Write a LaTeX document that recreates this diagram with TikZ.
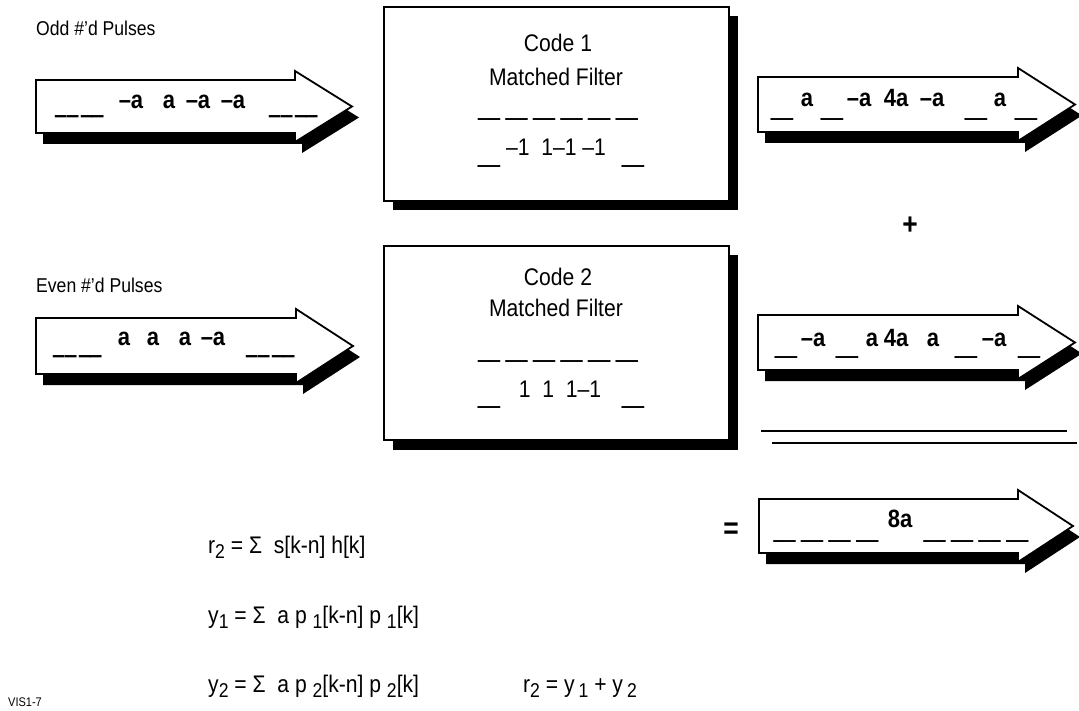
\documentclass[tikz,border=0pt]{standalone}
\usepackage{fontspec}
\setmainfont[FakeStretch=0.88]{Liberation Sans}
\newfontfamily\thinfont[FakeStretch=0.66]{Liberation Sans}
\newfontfamily\thickfont[FakeStretch=0.34]{Liberation Sans}
\newcommand\fsz[1]{\fontsize{#1}{#1}\selectfont}
\newcommand\lowr[1]{\raisebox{-5pt}{\fsz{20}#1}}
\newcommand\sigarrow[5]{%
  \fill[black,shift={(7,11)}] (#1,#2) -- (#4,#2) -- (#4,{#2-9}) -- (#5,{(#2+#3)/2}) -- (#4,{#3+9}) -- (#4,#3) -- (#1,#3) -- cycle;
  \draw[outline] (#1,#2) -- (#4,#2) -- (#4,{#2-9}) -- (#5,{(#2+#3)/2}) -- (#4,{#3+9}) -- (#4,#3) -- (#1,#3) -- cycle;}
\begin{document}
\begin{tikzpicture}[x=1pt,y=-1pt,
  outline/.style={draw=black,line width=1.8pt,fill=white,line join=miter},
  lbl/.style={inner sep=0pt,anchor=base west,font=\fsz{20}},
  mf/.style={inner sep=0pt,anchor=base,font=\fsz{24}},
  tok/.style={inner sep=0pt,anchor=base,font=\fsz{25}\bfseries},
  bdash/.style={inner sep=0pt,font=\thickfont\fsz{60}\bfseries},
  ndash/.style={inner sep=0pt,font=\thinfont\fsz{30}},
  eqn/.style={inner sep=0pt,anchor=base west,font=\fsz{24}},
  filterbox/.style={draw=black,line width=1.8pt,fill=white},
  boxshadow/.style={fill=black}]
\useasboundingbox (0,0) rectangle (1079,711);

% ---------- labels ----------
\node[lbl] (oddlbl) at (36,36) {Odd \#'d Pulses};
\node[lbl] (evenlbl) at (36,293) {Even \#'d Pulses};

% ---------- input arrow 1 ----------
\sigarrow{36}{80}{133}{295}{352}
\node[bdash] (o1) at (80,114.5) {\_\_\kern3pt\_\_};
\node[bdash] (o2) at (294,114.5) {\_\_\kern3pt\_\_};
\node[tok] (o3) at (131,108.5) {–a};
\node[tok] (o4) at (169,108.5) {a};
\node[tok] (o5) at (198,108.5) {–a};
\node[tok] (o6) at (233,108.5) {–a};

% ---------- input arrow 2 ----------
\sigarrow{36}{318}{374}{296}{353}
\node[bdash] (e1) at (78,354) {\_\_\kern3pt\_\_};
\node[bdash] (e2) at (271,354) {\_\_\kern3pt\_\_};
\node[tok] (e3) at (124,345.5) {a};
\node[tok] (e4) at (153,345.5) {a};
\node[tok] (e5) at (185,345.5) {a};
\node[tok] (e6) at (213,345.5) {–a};

% ---------- filter boxes ----------
\fill[boxshadow] (393,16) rectangle (738,210);
\node[filterbox,minimum width=345pt,minimum height=194pt,anchor=north west] (box1) at (383,6) {};
\node[mf] (b1a) at (558,51.5) {Code 1};
\node[mf] (b1b) at (556,85.5) {Matched Filter};
\node[ndash] (b1c) at (558,117) {\_\_ \_\_ \_\_ \_\_ \_\_ \_\_};
\node[mf] (b1d) at (556,155.5) {–1\ \ 1–1 –1};
\node[ndash] (b1e) at (489,164) {\_\_};
\node[ndash] (b1f) at (633,164) {\_\_};

\fill[boxshadow] (393,255) rectangle (738,450);
\node[filterbox,minimum width=345pt,minimum height=194pt,anchor=north west] (box2) at (383,245) {};
\node[mf] (b2a) at (558,285.5) {Code 2};
\node[mf] (b2b) at (556,316.5) {Matched Filter};
\node[ndash] (b2c) at (558,359) {\_\_ \_\_ \_\_ \_\_ \_\_ \_\_};
\node[mf] (b2d) at (560,397) {1\ \ 1\ \ 1–1};
\node[ndash] (b2e) at (489,405) {\_\_};
\node[ndash] (b2f) at (633,405) {\_\_};

% ---------- output arrow 1 ----------
\sigarrow{758}{77}{132}{1018}{1075}
\node[ndash] (r1) at (782,117.5) {\_\_};
\node[ndash] (r2) at (832,117.5) {\_\_};
\node[ndash] (r3) at (976,117.5) {\_\_};
\node[ndash] (r4) at (1026,117.5) {\_\_};
\node[tok] (r5) at (807,106.5) {a};
\node[tok] (r6) at (859,106.5) {–a};
\node[tok] (r7) at (896,106.5) {4a};
\node[tok] (r8) at (932,106.5) {–a};
\node[tok] (r9) at (1000,106.5) {a};

\node[inner sep=0pt,font=\fsz{30}\bfseries] (plus) at (910,226) {+};

% ---------- output arrow 2 ----------
\sigarrow{758}{315}{370}{1018}{1075}
\node[ndash] (s1) at (786,355.5) {\_\_};
\node[ndash] (s2) at (847,355.5) {\_\_};
\node[ndash] (s3) at (966,355.5) {\_\_};
\node[ndash] (s4) at (1029,355.5) {\_\_};
\node[tok] (s5) at (813,346.5) {–a};
\node[tok] (s6) at (872,346.5) {a};
\node[tok] (s7) at (896,346.5) {4a};
\node[tok] (s8) at (933,346.5) {a};
\node[tok] (s9) at (994,346.5) {–a};

% ---------- double rule ----------
\coordinate (d1a) at (761,431);
\coordinate (d1b) at (1067,431);
\coordinate (d2a) at (772,443);
\coordinate (d2b) at (1077,443);
\draw[line width=1.8pt] (d1a) -- (d1b);
\draw[line width=1.8pt] (d2a) -- (d2b);

% ---------- result arrow ----------
\node[inner sep=0pt,font=\fsz{30}\bfseries] (eq) at (731,531) {=};
\sigarrow{759}{499}{553}{1018}{1073}
\node[tok] (t1) at (900,527) {8a};
\node[ndash] (t2) at (826,539.5) {\_\_ \_\_ \_\_ \_\_};
\node[ndash] (t3) at (976,539.5) {\_\_ \_\_ \_\_ \_\_};

% ---------- equations ----------
\node[eqn] (q1) at (208,553) {r\lowr{2} = Σ\ \ s[k-n] h[k]};
\node[eqn] (q2) at (208,623) {y\lowr{1} = Σ\ \ a p \lowr{1}[k-n] p \lowr{1}[k]};
\node[eqn] (q3) at (208,692) {y\lowr{2} = Σ\ \ a p \lowr{2}[k-n] p \lowr{2}[k]};
\node[eqn] (q4) at (523,692) {r\lowr{2} = y\,\lowr{1} + y\,\lowr{2}};

\node[inner sep=0pt,anchor=base west,font=\fsz{12.5}] (vis) at (8,706) {VIS1-7};
\end{tikzpicture}
\end{document}
